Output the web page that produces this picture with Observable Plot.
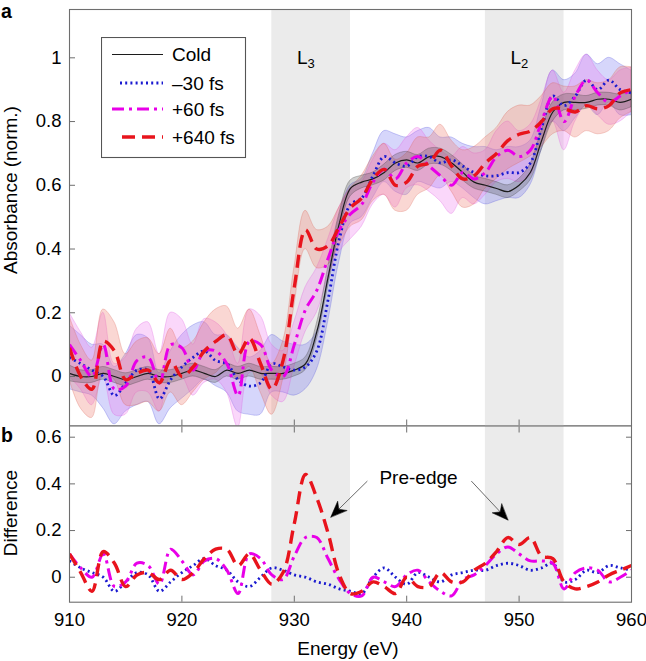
<!DOCTYPE html>
<html><head><meta charset="utf-8">
<script src="https://cdn.jsdelivr.net/npm/d3@7"></script>
<script src="https://cdn.jsdelivr.net/npm/@observablehq/plot@0.6"></script>
<style>
body{margin:0;background:#fff;font-family:"Liberation Sans",Arial,sans-serif;}
#wrap{position:relative;width:646px;height:661px;overflow:hidden;}
#wrap svg.plotsvg{position:absolute;left:0;}
.lab{position:absolute;white-space:nowrap;font-size:19px;color:#000;}
</style></head><body><div id="wrap"></div>
<script>
// ---------------- data ----------------
const energy = [910,911,912,913,914,915,916,917,918,919,
                920,921,922,923,924,925,926,927,928,929,
                930,931,932,933,934,935,936,937,938,939,
                940,941,942,943,944,945,946,947,948,949,
                950,951,952,953,954,955,956,957,958,959,960];

const coldAbs = [0.01,0.00,0.00,0.01,0.00,-0.01,0.00,0.01,0.00,0.00,
                 0.01,0.02,0.01,0.00,0.02,0.01,0.02,0.01,0.01,0.01,
                 0.02,0.04,0.14,0.31,0.48,0.59,0.61,0.62,0.64,0.67,
                 0.68,0.67,0.69,0.69,0.67,0.64,0.61,0.60,0.59,0.58,
                 0.60,0.64,0.74,0.83,0.86,0.86,0.86,0.87,0.87,0.86,0.87];
const coldErr = [0.025,0.02,0.02,0.02,0.02,0.02,0.02,0.02,0.02,0.02,
                 0.02,0.02,0.02,0.02,0.02,0.02,0.02,0.02,0.02,0.02,
                 0.02,0.02,0.025,0.03,0.03,0.025,0.02,0.02,0.025,0.025,
                 0.025,0.025,0.025,0.025,0.025,0.025,0.02,0.02,0.02,0.02,
                 0.02,0.025,0.03,0.03,0.025,0.025,0.02,0.02,0.02,0.025,0.025];

const m30Abs = [0.06,0.04,0.02,0.00,-0.06,-0.02,0.02,0.02,-0.07,-0.01,
                0.03,0.06,0.08,0.05,0.04,-0.01,-0.03,-0.02,0.04,0.03,
                0.02,0.03,0.08,0.24,0.43,0.54,0.56,0.63,0.69,0.67,
                0.66,0.69,0.69,0.67,0.68,0.66,0.64,0.63,0.63,0.64,
                0.64,0.67,0.78,0.88,0.85,0.88,0.93,0.90,0.93,0.90,0.89];
const m30Err = [0.10,0.09,0.08,0.10,0.09,0.09,0.11,0.10,0.08,0.09,
                0.10,0.10,0.09,0.08,0.09,0.10,0.09,0.10,0.09,0.08,
                0.08,0.07,0.06,0.07,0.07,0.06,0.06,0.07,0.08,0.09,
                0.09,0.08,0.09,0.08,0.07,0.07,0.08,0.09,0.08,0.08,
                0.08,0.07,0.07,0.08,0.08,0.07,0.08,0.08,0.07,0.08,0.07];

const p60Abs = [0.10,0.05,0.00,0.10,-0.04,-0.03,0.05,0.06,-0.02,0.10,
                0.09,0.02,0.08,0.08,0.04,-0.06,0.11,0.10,0.02,0.00,
                0.10,0.21,0.27,0.37,0.46,0.51,0.54,0.61,0.65,0.62,
                0.67,0.69,0.66,0.63,0.60,0.64,0.62,0.64,0.69,0.71,
                0.69,0.71,0.80,0.88,0.80,0.88,0.93,0.89,0.86,0.88,0.90];
const p60Err = [0.10,0.09,0.09,0.10,0.08,0.09,0.10,0.11,0.09,0.10,
                0.09,0.08,0.10,0.09,0.09,0.10,0.10,0.09,0.08,0.08,
                0.07,0.07,0.07,0.06,0.07,0.08,0.07,0.07,0.08,0.09,
                0.08,0.09,0.08,0.08,0.09,0.08,0.08,0.07,0.08,0.09,
                0.08,0.08,0.07,0.08,0.09,0.08,0.08,0.07,0.07,0.08,0.07];

const p640Abs = [0.09,0.00,-0.04,0.11,0.08,-0.01,0.01,0.02,-0.02,0.05,
                 0.00,0.03,0.08,0.11,0.13,0.07,0.12,0.04,-0.04,0.05,
                 0.28,0.46,0.40,0.41,0.47,0.53,0.56,0.62,0.65,0.60,
                 0.61,0.66,0.67,0.71,0.66,0.62,0.63,0.67,0.70,0.74,
                 0.76,0.77,0.80,0.84,0.84,0.83,0.85,0.84,0.85,0.89,0.90];
const p640Err = [0.10,0.10,0.09,0.10,0.09,0.08,0.10,0.10,0.09,0.10,
                 0.09,0.08,0.09,0.10,0.09,0.08,0.09,0.09,0.08,0.06,
                 0.06,0.06,0.06,0.06,0.06,0.06,0.07,0.07,0.08,0.08,
                 0.09,0.09,0.08,0.08,0.08,0.09,0.09,0.08,0.08,0.09,
                 0.09,0.08,0.08,0.08,0.07,0.08,0.08,0.08,0.08,0.08,0.07];

const m30Diff = [0.07,0.04,0.02,0.00,-0.06,-0.02,0.02,0.01,-0.06,-0.02,
                 0.02,0.05,0.08,0.05,0.03,-0.02,-0.04,0.00,0.04,0.03,
                 0.01,0.00,-0.02,-0.03,-0.05,-0.06,-0.07,0.00,0.04,0.00,
                 -0.03,0.02,0.00,-0.02,0.01,0.02,0.03,0.03,0.05,0.06,
                 0.05,0.03,0.04,0.06,-0.02,-0.01,0.03,0.02,0.05,0.04,0.03];
const p60Diff = [0.10,0.04,0.00,0.10,-0.04,-0.02,0.06,0.05,-0.03,0.12,
                 0.07,0.01,0.07,0.08,0.03,-0.07,0.10,0.08,0.01,-0.01,
                 0.09,0.17,0.17,0.08,-0.01,-0.07,-0.08,0.00,-0.02,-0.04,
                 0.01,0.03,-0.02,-0.06,-0.08,-0.01,0.01,0.05,0.10,0.13,
                 0.10,0.07,0.07,0.06,-0.05,0.02,0.04,0.03,-0.02,0.00,0.03];
const p640Diff = [0.10,0.02,-0.06,0.11,0.06,-0.04,0.01,0.02,-0.01,0.03,
                  -0.01,0.02,0.08,0.12,0.12,0.05,0.10,0.03,-0.03,0.02,
                  0.23,0.44,0.34,0.19,0.01,-0.07,-0.06,-0.02,-0.04,-0.07,
                  0.00,-0.04,-0.04,0.02,-0.02,-0.02,0.03,0.06,0.11,0.17,
                  0.14,0.17,0.09,0.08,-0.02,-0.05,-0.04,-0.02,0.01,0.03,0.05];

const seriesNames = ["Cold", "\u201330 fs", "+60 fs", "+640 fs"];
const edgeNames = ["L", "L"];
const edgeSubs = ["3", "2"];
const edgeFrom = [928, 947];
const edgeTo = [935, 954];
const xTicks = [910, 920, 930, 940, 950, 960];
const absTicks = [0, 0.2, 0.4, 0.6, 0.8, 1];
const diffTicks = [0, 0.2, 0.4, 0.6];
const preEdgeText = "Pre-edge";
const arrowTail = [[936.5, 0.412], [945.75, 0.412]];
const arrowTip = [[933.25, 0.258], [949.0, 0.245]];
const preEdgePos = [941.05, 0.425];
const edgeLabelLevel = 1.0;
const panelLetters = ["a", "b"];

// ---------------- styles ----------------
const FONT = '"Liberation Sans", Arial, Helvetica, sans-serif';
const FRAME = "#6e6e6e";
const st = {
  "Cold":    {line: "#1c1c1c", w: 1.2, dash: null, band: "#4a4a4a", bandOp: 0.26, edge: "#333"},
  "\u201330 fs": {line: "#1a1ad0", w: 2.8, dash: "2,3.2", band: "#6b6bf0", bandOp: 0.28, edge: "#4d4de0"},
  "+60 fs":  {line: "#e800e8", w: 3, dash: "12,5,3,5", band: "#f07af0", bandOp: 0.3, edge: "#dd55dd"},
  "+640 fs": {line: "#e8141c", w: 3.4, dash: "13,7", band: "#ee7a6c", bandOp: 0.3, edge: "#d9604f"}
};

// ---------------- tables ----------------
const absSets = [[coldAbs, coldErr], [m30Abs, m30Err], [p60Abs, p60Err], [p640Abs, p640Err]];
const absRows = seriesNames.map((s, k) => energy.map((e, i) => ({
  s, e, v: absSets[k][0][i], lo: absSets[k][0][i] - absSets[k][1][i], hi: absSets[k][0][i] + absSets[k][1][i]
})));
const diffSets = [m30Diff, p60Diff, p640Diff];
const diffRows = seriesNames.slice(1).map((s, k) => energy.map((e, i) => ({s, e, v: diffSets[k][i]})));
const edges = edgeFrom.map((f, i) => ({from: f, to: edgeTo[i], mid: (f + edgeTo[i]) / 2, name: edgeNames[i], sub: edgeSubs[i]}));
const arrows = arrowTail.map((t, i) => ({x1: t[0], y1: t[1], x2: arrowTip[i][0], y2: arrowTip[i][1]}));

const fmt = d3.format("~g");
const W = 646, ML = 69, MR = 15;
const xDomain = [910, 960];

// ---------------- top panel ----------------
const topH = 426, topMT = 9, topMB = 0.5;
const topDom = [-0.1553, 1.1516];
const bandOrder = [1, 2, 3, 0];
const lineOrder = [0, 1, 2, 3];
const topPlot = Plot.plot({
  width: W, height: topH, marginLeft: ML, marginRight: MR, marginTop: topMT, marginBottom: topMB,
  style: {fontFamily: FONT, fontSize: "18.5px", background: "transparent", color: "#000"},
  x: {domain: xDomain},
  y: {domain: topDom},
  marks: [
    Plot.rect(edges, {x1: "from", x2: "to", fill: "#ebebeb"}),
    ...bandOrder.map(k => Plot.areaY(absRows[k], {
      x: "e", y1: "lo", y2: "hi", curve: "catmull-rom", clip: true,
      fill: st[seriesNames[k]].band, fillOpacity: st[seriesNames[k]].bandOp,
      stroke: st[seriesNames[k]].edge, strokeOpacity: 0.35, strokeWidth: 0.8
    })),
    ...lineOrder.map(k => Plot.line(absRows[k], {
      x: "e", y: "v", curve: "catmull-rom", clip: true,
      stroke: st[seriesNames[k]].line, strokeWidth: st[seriesNames[k]].w,
      strokeDasharray: st[seriesNames[k]].dash, strokeLinecap: "butt"
    })),
    Plot.text(edges, {x: "mid", y: () => edgeLabelLevel, text: "name", dx: -9, fontSize: 19, fill: "#000"}),
    Plot.text(edges, {x: "mid", y: () => edgeLabelLevel, text: "sub", dx: 0, dy: 6, fontSize: 13, fill: "#000"}),
    Plot.axisY({ticks: absTicks, tickSize: -6, fill: "none", stroke: FRAME, label: null}),
    Plot.axisY({ticks: absTicks, tickSize: 0, tickPadding: 8, tickFormat: fmt, label: null}),
    Plot.axisX({ticks: xTicks, anchor: "bottom", tickSize: -6, fill: "none", stroke: FRAME, label: null}),
    Plot.frame({stroke: FRAME, strokeWidth: 1.1})
  ]
});

// ---------------- bottom panel ----------------
const botH = 236, botMT = 0.5, botMB = 59.3;
const botDom = [-0.107, 0.648];
const xS = d3.scaleLinear(xDomain, [ML, W - MR]);
const yB = d3.scaleLinear(botDom, [botH - botMB, botMT]);
const headAngle = d => Math.atan2(xS(d.x2) - xS(d.x1), -(yB(d.y2) - yB(d.y1))) * 180 / Math.PI;
const headShape = {draw(ctx, l) {
  const w = 6.5;
  ctx.moveTo(0, -l); ctx.lineTo(w, 0); ctx.lineTo(0, -l * 0.3); ctx.lineTo(-w, 0); ctx.closePath();
}};
const botPlot = Plot.plot({
  width: W, height: botH, marginLeft: ML, marginRight: MR, marginTop: botMT, marginBottom: botMB,
  style: {fontFamily: FONT, fontSize: "18.5px", background: "transparent", color: "#000"},
  x: {domain: xDomain},
  y: {domain: botDom},
  marks: [
    Plot.rect(edges, {x1: "from", x2: "to", fill: "#ebebeb"}),
    ...[0, 1, 2].map(k => Plot.line(diffRows[k], {
      x: "e", y: "v", curve: "catmull-rom", clip: true,
      stroke: st[seriesNames[k + 1]].line, strokeWidth: st[seriesNames[k + 1]].w,
      strokeDasharray: st[seriesNames[k + 1]].dash, strokeLinecap: "butt"
    })),
    Plot.link(arrows, {x1: "x1", y1: "y1", x2: "x2", y2: "y2", stroke: "#6a6a6a", strokeWidth: 1}),
    Plot.vector(arrows, {x: "x2", y: "y2", rotate: headAngle, length: 16, anchor: "end",
      shape: headShape, fill: "#000", stroke: "#000", strokeWidth: 0.5}),
    Plot.text([preEdgeText], {x: () => preEdgePos[0], y: () => preEdgePos[1], text: d => d, fontSize: 19, fill: "#000"}),
    Plot.axisY({ticks: diffTicks, anchor: "left", tickSize: -6, fill: "none", stroke: FRAME, label: null}),
    Plot.axisY({ticks: diffTicks, anchor: "right", tickSize: -6, fill: "none", stroke: FRAME, label: null}),
    Plot.axisY({ticks: diffTicks, anchor: "left", tickSize: 0, tickPadding: 8, tickFormat: fmt, label: null}),
    Plot.axisX({ticks: xTicks, anchor: "top", tickSize: -6, fill: "none", stroke: FRAME, label: null}),
    Plot.axisX({ticks: xTicks, anchor: "bottom", tickSize: -6, fill: "none", stroke: FRAME, label: null}),
    Plot.axisX({ticks: xTicks, anchor: "bottom", tickSize: 0, tickPadding: 11, tickFormat: fmt, label: null}),
    Plot.frame({stroke: FRAME, strokeWidth: 1.1})
  ]
});

// ---------------- assemble ----------------
const wrap = document.getElementById("wrap");
topPlot.classList.add("plotsvg"); topPlot.style.top = "0px";
botPlot.classList.add("plotsvg"); botPlot.style.top = "425px";
wrap.appendChild(topPlot);
wrap.appendChild(botPlot);

function addDiv(cls, text, css) {
  const d = document.createElement("div");
  d.className = cls; d.textContent = text;
  Object.assign(d.style, css);
  wrap.appendChild(d);
  return d;
}
addDiv("lab", "Absorbance (norm.)", {left: "11px", top: "190px", transform: "translate(-50%,-50%) rotate(-90deg)"});
addDiv("lab", "Difference", {left: "11px", top: "513px", transform: "translate(-50%,-50%) rotate(-90deg)"});
addDiv("lab", "Energy (eV)", {left: "348px", top: "649px", transform: "translate(-50%,-50%)"});

const ns = "http://www.w3.org/2000/svg";
// panel letters as svg text
const letters = document.createElementNS(ns, "svg");
letters.setAttribute("width", 30); letters.setAttribute("height", 450);
Object.assign(letters.style, {position: "absolute", left: "0px", top: "0px", fontFamily: FONT, pointerEvents: "none"});
const letterBase = [18, 442];
panelLetters.forEach((c, i) => {
  const t = document.createElementNS(ns, "text");
  t.setAttribute("x", 1); t.setAttribute("y", letterBase[i]);
  t.setAttribute("font-size", 19.5); t.setAttribute("font-weight", "bold");
  t.textContent = c;
  letters.appendChild(t);
});
wrap.appendChild(letters);

// legend
const leg = document.createElementNS(ns, "svg");
leg.setAttribute("width", 146); leg.setAttribute("height", 122);
Object.assign(leg.style, {position: "absolute", left: "100.5px", top: "36.5px", fontFamily: FONT});
const rect = document.createElementNS(ns, "rect");
rect.setAttribute("x", 0.5); rect.setAttribute("y", 0.5); rect.setAttribute("width", 144); rect.setAttribute("height", 120);
rect.setAttribute("fill", "#fff"); rect.setAttribute("stroke", "#555"); rect.setAttribute("stroke-width", 1.1);
leg.appendChild(rect);
const legY = [17.5, 46, 72, 100];
const legX1 = [11, 19, 11, 21];
seriesNames.forEach((s, i) => {
  const l = document.createElementNS(ns, "line");
  l.setAttribute("x1", legX1[i]); l.setAttribute("x2", 62);
  l.setAttribute("y1", legY[i]); l.setAttribute("y2", legY[i]);
  l.setAttribute("stroke", st[s].line); l.setAttribute("stroke-width", st[s].w);
  if (st[s].dash) l.setAttribute("stroke-dasharray", st[s].dash);
  leg.appendChild(l);
  const t = document.createElementNS(ns, "text");
  t.setAttribute("x", 71); t.setAttribute("y", legY[i]);
  t.setAttribute("dy", "0.35em"); t.setAttribute("font-size", 19);
  t.textContent = s;
  leg.appendChild(t);
});
wrap.appendChild(leg);
</script></body></html>
